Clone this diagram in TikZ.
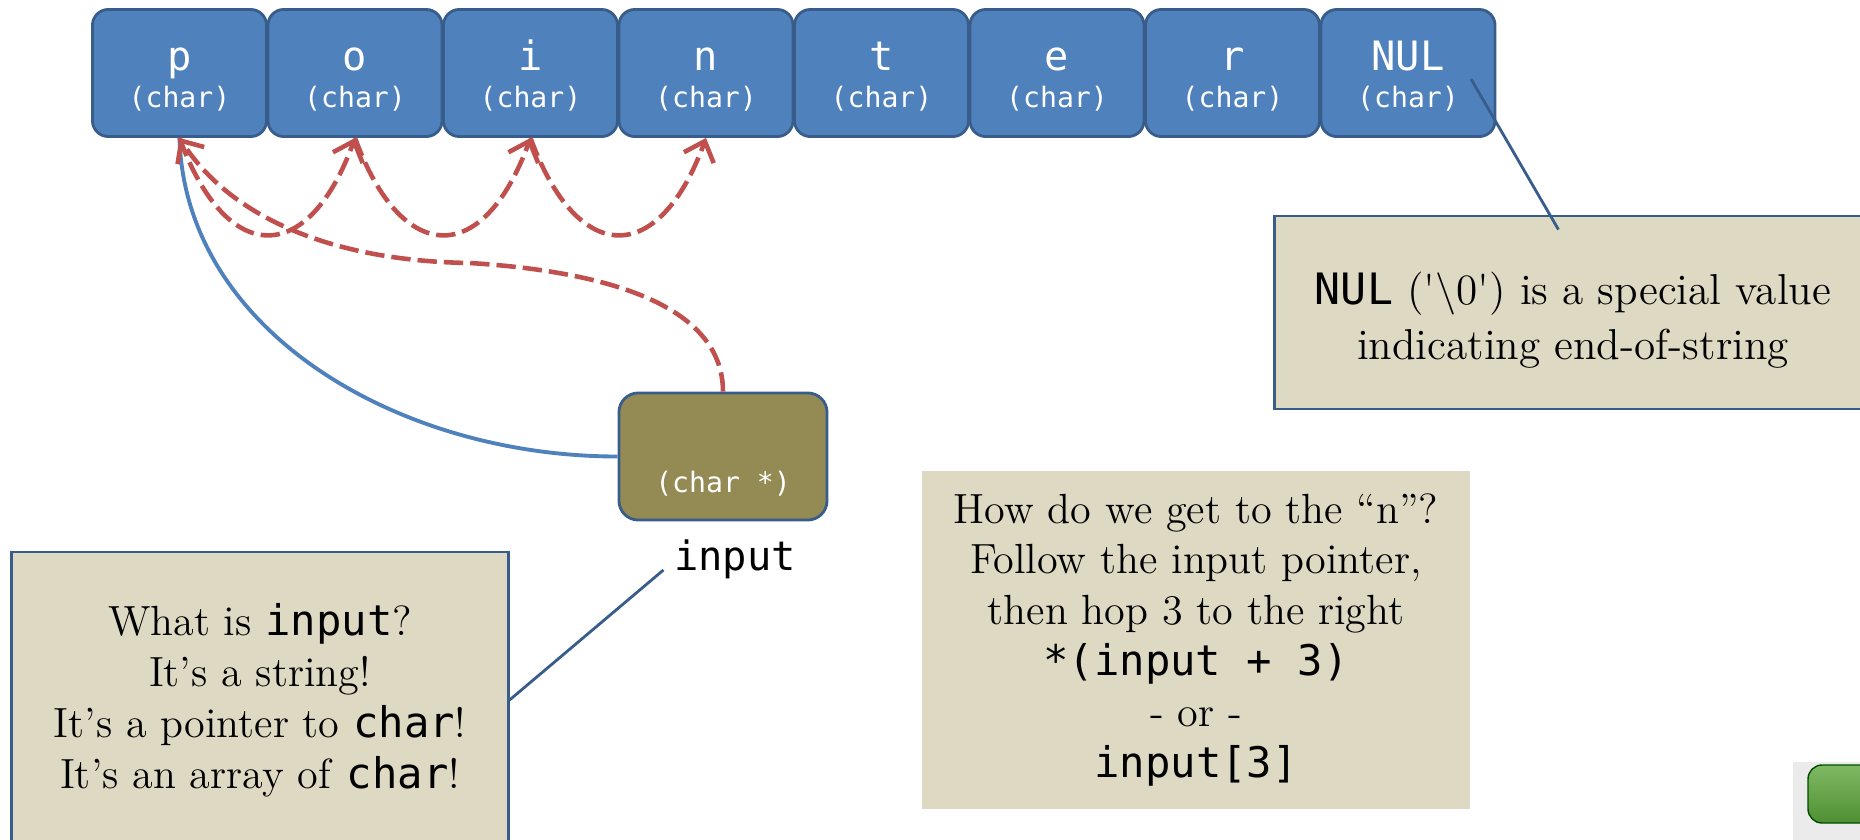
\documentclass[tikz,border=0pt]{standalone}
\usepackage{fontspec}
\setmonofont{DejaVu Sans Mono}
\usetikzlibrary{arrows.meta,calc}

\definecolor{cellblue}{HTML}{4F81BD}
\definecolor{celledge}{HTML}{385D8A}
\definecolor{ptrolive}{HTML}{948A54}
\definecolor{notetan}{HTML}{DDD9C3}
\definecolor{hopred}{HTML}{C0504D}
\definecolor{btngreen}{HTML}{5EA83C}

\tikzset{
  cell/.style={draw=celledge, fill=cellblue, line width=0.8pt, rounded corners=4.5pt,
    minimum width=1.74cm, minimum height=1.27cm, inner sep=0pt},
  celltext/.style={text=white, font=\ttfamily\fontsize{11.5}{12}\selectfont, anchor=base, inner sep=0pt},
  celltype/.style={text=white, font=\ttfamily\fontsize{8}{9}\selectfont, anchor=base, inner sep=0pt},
  note/.style={fill=notetan, align=center, font=\fontsize{12}{14.5}\selectfont, inner sep=0pt},
  hop/.style={draw=hopred, line width=1.3pt, dash pattern=on 5.5pt off 2pt,
    -{Straight Barb[length=5pt,width=9pt,line width=1.3pt]}},
}

\begin{document}
\begin{tikzpicture}[x=0.01cm, y=-0.01cm]
  \useasboundingbox (0,0) rectangle (1860,839);
  \clip (0,0) rectangle (1860,839);

  % the characters of the string
  \foreach \ch [count=\i] in {p,o,i,n,t,e,r,NUL} {
    \node[cell] (c\i) at ({4+175.5*\i},73) {};
    \node[celltext] (l\i) at ({4+175.5*\i},70) {\ch};
    \node[celltype] (t\i) at ({4+175.5*\i},107) {(char)};
  }

  % the pointer
  \node[cell, fill=ptrolive, minimum width=2.08cm, rounded corners=5.5pt] (ptr) at (723,456.5) {};
  \node[celltype] (ptrtype) at (723,492) {(char *)};
  \node[anchor=base, font=\ttfamily\fontsize{11.5}{12}\selectfont, inner sep=0pt] (inputlbl) at (735,570) {input};

  % notes
  \node[note, draw=celledge, line width=0.8pt, minimum width=4.96cm, minimum height=2.96cm] (whatnote) at (260,700)
    {What is \texttt{input}?\\It's a string!\\It's a pointer to \texttt{char}!\\It's an array of \texttt{char}!};
  \node[note, minimum width=5.48cm, minimum height=3.37cm] (hownote) at (1196,640)
    {How do we get to the ``n''?\\Follow the input pointer,\\then hop 3 to the right\\\texttt{*(input + 3)}\\- or -\\\texttt{input[3]}};
  \node[note, draw=celledge, line width=0.8pt, minimum width=5.96cm, minimum height=1.93cm] (nulnote) at (1573,312.5) {};
  \node[align=center, inner sep=0pt, font=\fontsize{12.3}{15.6}\selectfont] (nultext) at (1573,320)
    {\texttt{NUL} (\textquotesingle$\backslash$0\textquotesingle) is a special value\\indicating end-of-string};

  % callout lines
  \draw[celledge, line width=0.8pt] ($(inputlbl.base west)+(-10,0)$) -- (whatnote.east);
  \draw[celledge, line width=0.8pt] ($(c8.center)+(63,6)$) -- ($(nulnote.north west)+(285,15)$);

  % pointer to the first char
  \draw[cellblue, line width=1.1pt] (ptr.west) .. controls +(-219,0) and +(5.5,193.5) .. (c1.south);
  \draw[hop] (ptr.north) .. controls +(0,-63) and +(190,12) .. (470,263)
    .. controls +(-140,-2) and +(50.5,78.5) .. (c1.south);

  % hops along the string
  \foreach \a/\b in {1/2,2/3,3/4}
    \draw[hop] (c\a.south) .. controls +(47,129) and +(-47,129) .. (c\b.south);

  % slide button
  \fill[black!8] (1793,762) rectangle (1870,850);
  \draw[draw=black!70!green, top color=btngreen!80!white, bottom color=btngreen!85!black, rounded corners=4pt]
    (1808,765) rectangle (1890,823);
\end{tikzpicture}
\end{document}
